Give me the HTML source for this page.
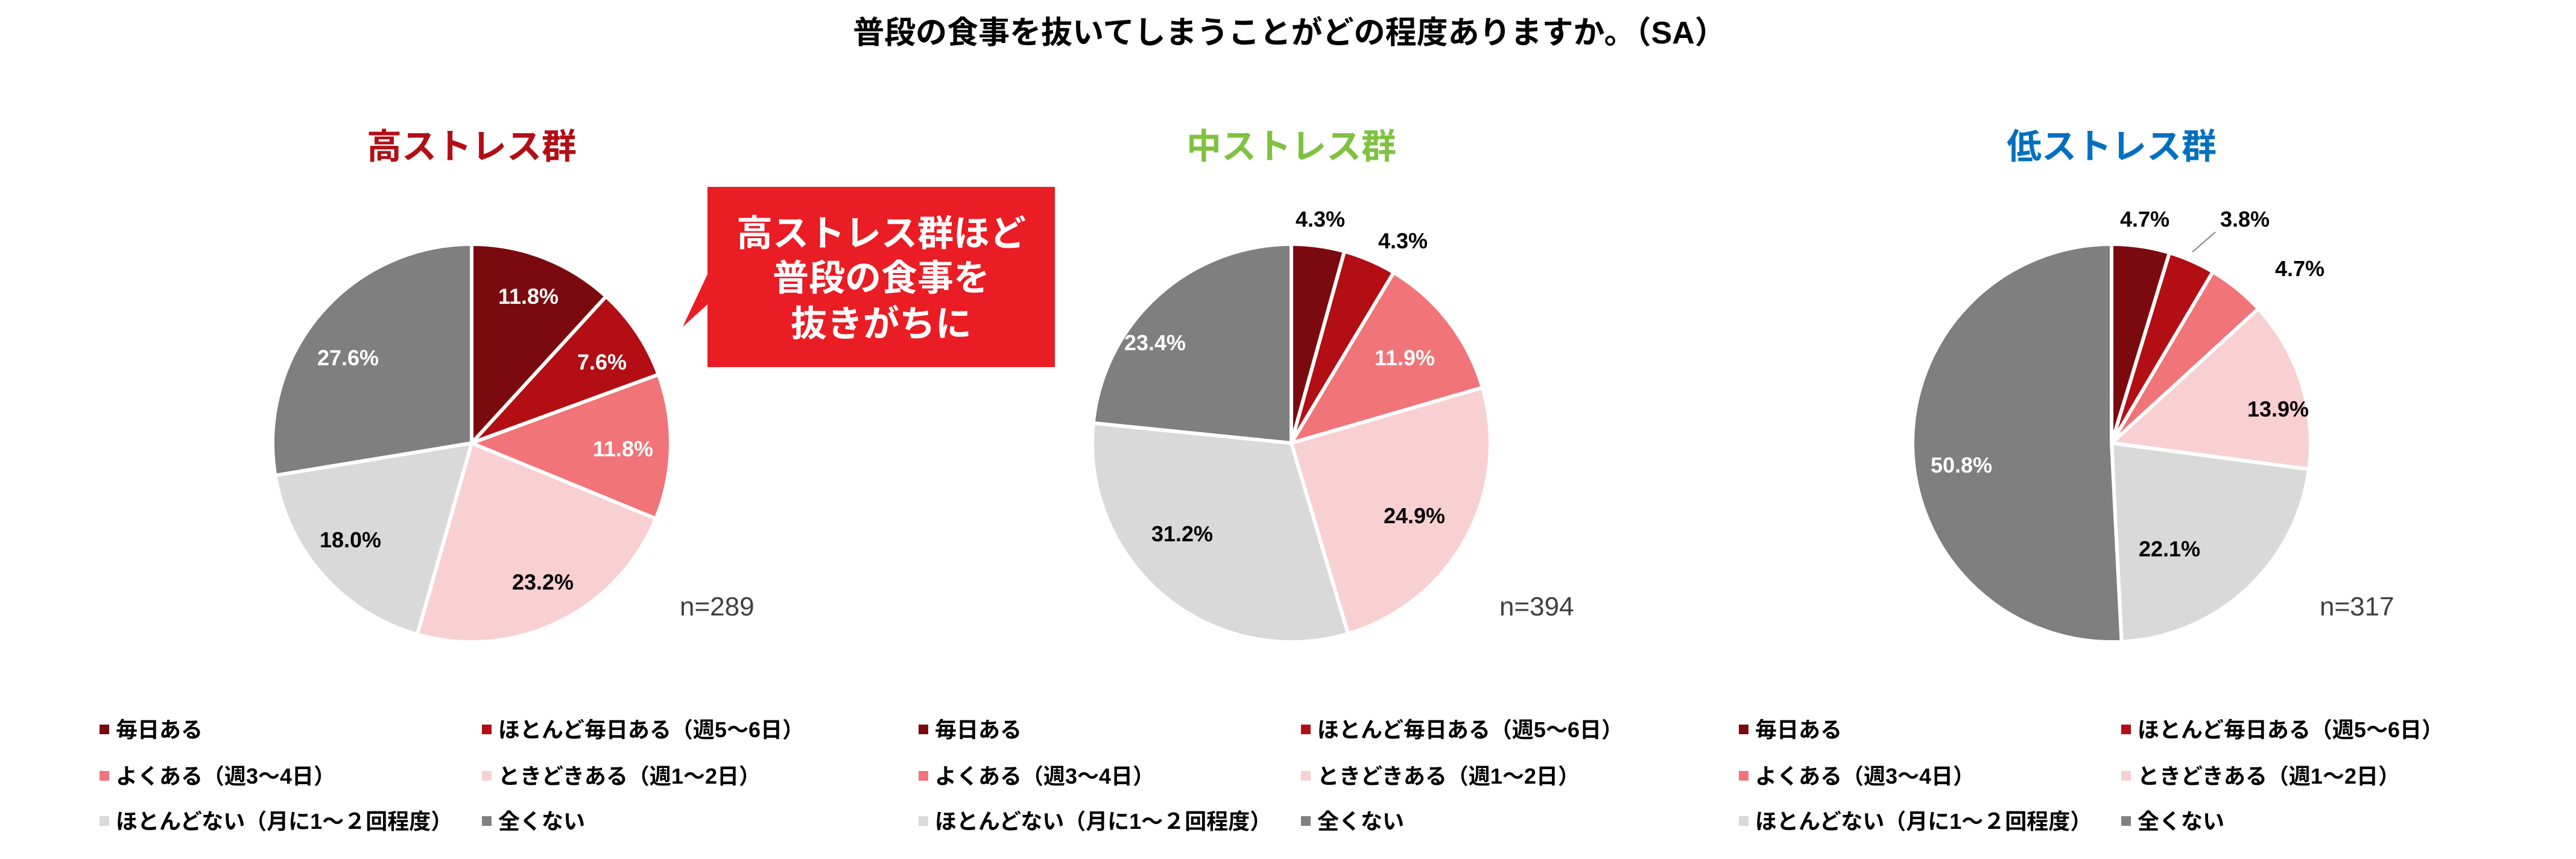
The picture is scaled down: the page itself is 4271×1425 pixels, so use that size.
<!DOCTYPE html>
<html><head><meta charset="utf-8">
<style>
html,body{margin:0;padding:0;background:#fff;}
body{width:4271px;height:1425px;position:relative;overflow:hidden;font-family:"Liberation Sans","Noto Sans CJK JP",sans-serif;}
</style></head>
<body>
<svg id="s" width="4271" height="1425" xmlns="http://www.w3.org/2000/svg" style="position:absolute;left:0;top:0" font-family="Liberation Sans, Noto Sans CJK JP, sans-serif">
<text x="2138" y="72" font-size="52" font-weight="bold" text-anchor="middle" fill="#000">普段の食事を抜いてしまうことがどの程度ありますか。（SA）</text>
<polygon points="1173,310 1749,310 1749,609 1173,609 1173,505 1132,542 1173,455" fill="#ea1c24"/>
<text x="1461" y="408" font-size="60" font-weight="bold" text-anchor="middle" fill="#fff">高ストレス群ほど</text>
<text x="1461" y="482" font-size="60" font-weight="bold" text-anchor="middle" fill="#fff">普段の食事を</text>
<text x="1461" y="558" font-size="60" font-weight="bold" text-anchor="middle" fill="#fff">抜きがちに</text>
<g id="pies"></g>
<line x1="3635" y1="418" x2="3673" y2="385" stroke="#7f7f7f" stroke-width="2"/>
</svg>
<script>
var cols=["#7b0a0e","#b20e14","#f07478","#f9d0d2","#d9d9d9","#7f7f7f"];
var groups=[
 {cx:782,title:"高ストレス群",tc:"#b20e14",n:"n=289",vals:[11.8,7.6,11.8,23.2,18.0,27.6],
  labs:[[876,491,"#fff"],[998,600,"#fff"],[1033,744,"#fff"],[900,965,"#000"],[581,895,"#000"],[577,593,"#fff"]]},
 {cx:2141,title:"中ストレス群",tc:"#7fc241",n:"n=394",vals:[4.3,4.3,11.9,24.9,31.2,23.4],
  labs:[[2189,363,"#000"],[2326,399,"#000"],[2329,593,"#fff"],[2345,855,"#000"],[1960,885,"#000"],[1915,568,"#fff"]]},
 {cx:3501,title:"低ストレス群",tc:"#0070c0",n:"n=317",vals:[4.7,3.8,4.7,13.9,22.1,50.8],
  labs:[[3556,363,"#000"],[3722,363,"#000"],[3813,445,"#000"],[3777,678,"#000"],[3597,910,"#000"],[3252,771,"#fff"]]}
];
var legs=["毎日ある","ほとんど毎日ある（週5〜6日）","よくある（週3〜4日）","ときどきある（週1〜2日）","ほとんどない（月に1〜２回程度）","全くない"];
var h="",cy=735,r=330;
groups.forEach(function(g,gi){
  var a=0;
  g.vals.forEach(function(v,i){
    var a0=a/100*2*Math.PI,a1=(a+v)/100*2*Math.PI;a+=v;
    var x0=g.cx+r*Math.sin(a0),y0=cy-r*Math.cos(a0),x1=g.cx+r*Math.sin(a1),y1=cy-r*Math.cos(a1);
    h+='<path d="M'+g.cx+','+cy+' L'+x0+','+y0+' A'+r+','+r+' 0 '+((v>50)?1:0)+' 1 '+x1+','+y1+' Z" fill="'+cols[i]+'" stroke="#fff" stroke-width="6" stroke-linejoin="round"/>';
  });
  g.vals.forEach(function(v,i){
    var L=g.labs[i];
    h+='<text x="'+L[0]+'" y="'+(L[1]+13)+'" font-size="36" font-weight="bold" text-anchor="middle" fill="'+L[2]+'">'+v.toFixed(1)+'%</text>';
  });
  h+='<text x="'+g.cx+'" y="263" font-size="58" font-weight="bold" text-anchor="middle" fill="'+g.tc+'">'+g.title+'</text>';
  h+='<text x="'+(g.cx+345)+'" y="1021" font-size="44" fill="#404040">'+g.n+'</text>';
  var off=[0,1358,2718][gi];
  for(var k=0;k<6;k++){
    var x=off+(k%2?799:165),y=[1210,1287,1362][Math.floor(k/2)];
    h+='<rect x="'+x+'" y="'+(y-8)+'" width="16" height="16" fill="'+cols[k]+'"/>';
    h+='<text x="'+(x+27)+'" y="'+(y+13)+'" font-size="36" font-weight="bold" fill="#000">'+legs[k]+'</text>';
  }
});
document.getElementById("pies").innerHTML=h;
</script>
</body></html>
